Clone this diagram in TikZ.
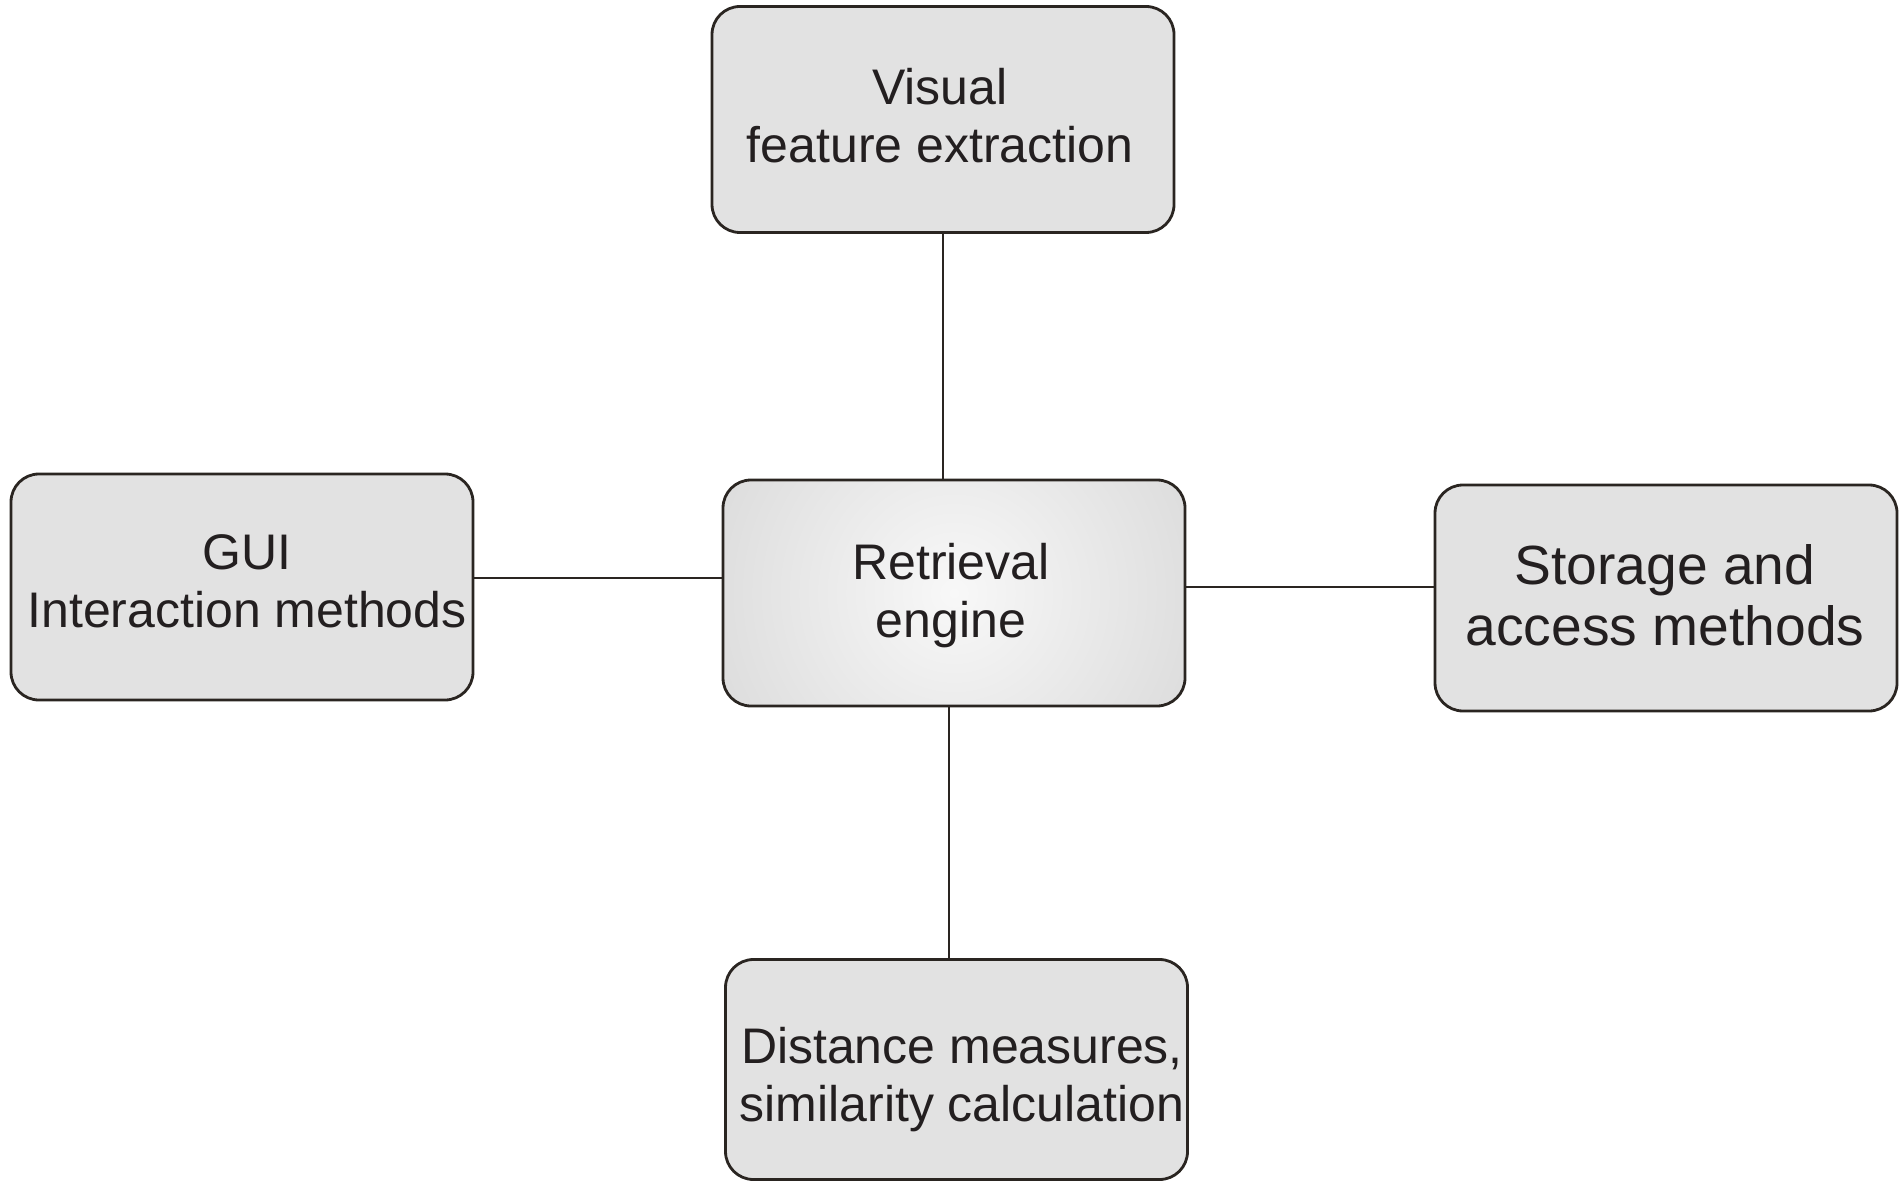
\documentclass[tikz,border=0pt]{standalone}
\usepackage{fontspec}
\setmainfont{Liberation Sans}
\definecolor{boxfill}{HTML}{E2E2E2}
\definecolor{ink}{HTML}{2A2521}
\definecolor{txtc}{HTML}{231F20}
\definecolor{shin}{HTML}{F8F8F8}
\definecolor{shout}{HTML}{C6C6C6}
\begin{document}
\begin{tikzpicture}[x=0.5pt,y=-0.5pt,
  box/.style={draw=ink, line width=1.4pt, rounded corners=14pt, fill=boxfill,
    minimum width=231pt, minimum height=113pt, inner sep=0pt},
  lbl/.style={text=txtc, align=center, inner sep=0pt,
    font=\fontsize{25pt}{29pt}\selectfont},
  biglbl/.style={lbl, font=\fontsize{27.6pt}{30.5pt}\selectfont},
  link/.style={draw=ink, line width=1pt}]
\useasboundingbox (0,0) rectangle (1904,1181);
\fill[white] (0,0) rectangle (1904,1181);

\coordinate (ylc) at (0,578);
\coordinate (yrc) at (0,587);
\coordinate (xbc) at (949,0);

\node[box] (top) at (943,119.5) {};
\node[box] (left) at (242,587) {};
\node[box, path picture={\shade[inner color=shin, outer color=shout]
   (path picture bounding box.center) circle (235pt);}] (center) at (954,593) {};
\node[box] (right) at (1666,598) {};
\node[box, minimum height=110pt] (bottom) at (956.5,1069.5) {};

\draw[link] (top.south) -- (top.south |- center.north);
\draw[link] (left.east |- ylc) -- (center.west |- ylc);
\draw[link] (center.east |- yrc) -- (right.west |- yrc);
\draw[link] (center.south -| xbc) -- (bottom.north -| xbc);

\node[lbl] (topT) at (940,115.5) {Visual\\feature extraction};
\node[lbl] (leftT) at (247,581) {GUI\\Interaction methods};
\node[lbl] (centerT) at (951,596) {Retrieval\\engine};
\node[biglbl] (rightT) at (1665,595.5) {Storage and\\access methods};
\node[lbl] (bottomT) at (962,1080) {Distance measures,\\similarity calculation};
\end{tikzpicture}
\end{document}
